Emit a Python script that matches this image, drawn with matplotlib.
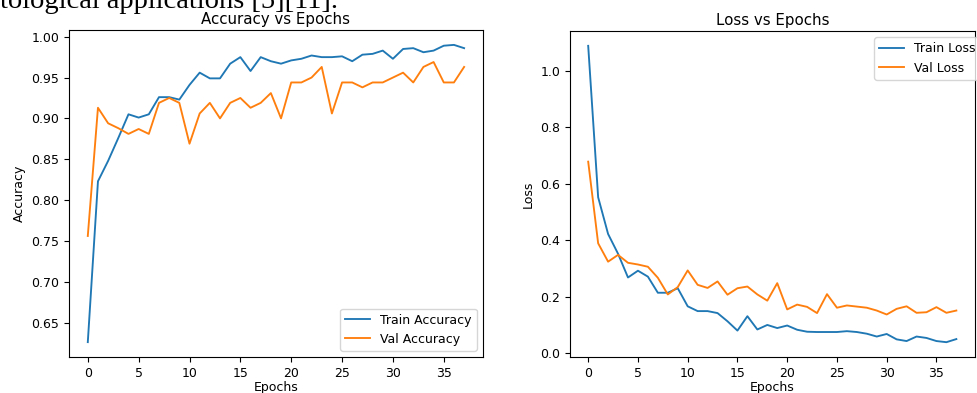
import numpy as np
import matplotlib
matplotlib.use('Agg')
import matplotlib.pyplot as plt

plt.rcParams['font.size'] = 9

# training history, one value per epoch
epochs = np.arange(38)

train_acc = [0.626, 0.823, 0.848, 0.876, 0.905, 0.901, 0.905, 0.926, 0.926, 0.923,
             0.941, 0.956, 0.949, 0.949, 0.967, 0.975, 0.958, 0.975, 0.970, 0.967,
             0.971, 0.973, 0.977, 0.975, 0.975, 0.976, 0.970, 0.978, 0.979, 0.983,
             0.973, 0.985, 0.986, 0.981, 0.983, 0.989, 0.990, 0.986]
val_acc = [0.756, 0.913, 0.894, 0.888, 0.881, 0.887, 0.881, 0.919, 0.925, 0.919,
           0.869, 0.906, 0.919, 0.900, 0.919, 0.925, 0.913, 0.919, 0.931, 0.900,
           0.944, 0.944, 0.950, 0.963, 0.906, 0.944, 0.944, 0.938, 0.944, 0.944,
           0.950, 0.956, 0.944, 0.963, 0.969, 0.944, 0.944, 0.963]

train_loss = [1.088, 0.552, 0.422, 0.352, 0.268, 0.292, 0.271, 0.214, 0.214, 0.230,
              0.166, 0.149, 0.149, 0.142, 0.113, 0.080, 0.131, 0.084, 0.100, 0.089,
              0.098, 0.083, 0.076, 0.075, 0.075, 0.075, 0.078, 0.075, 0.069, 0.059,
              0.068, 0.049, 0.043, 0.059, 0.054, 0.043, 0.039, 0.050]
val_loss = [0.678, 0.389, 0.324, 0.348, 0.320, 0.314, 0.306, 0.267, 0.208, 0.234,
            0.293, 0.242, 0.231, 0.254, 0.207, 0.230, 0.236, 0.208, 0.186, 0.248,
            0.155, 0.172, 0.164, 0.142, 0.209, 0.161, 0.169, 0.165, 0.161, 0.151,
            0.137, 0.157, 0.166, 0.143, 0.145, 0.163, 0.143, 0.151]

fig = plt.figure(figsize=(9.77, 3.93), dpi=100)

# line of body text sitting above the plots
fig.text(0.0, 0.98, 'tological applications [5][11].', family='Liberation Serif',
         fontsize=20.5, va='baseline', ha='left')

ax1 = fig.add_axes([0.0706, 0.0916, 0.4237, 0.832])
ax1.plot(epochs, train_acc, label='Train Accuracy', lw=1.35)
ax1.plot(epochs, val_acc, label='Val Accuracy', lw=1.35)
ax1.set_title('Accuracy vs Epochs', fontsize=10.8, pad=4)
ax1.set_xlabel('Epochs', labelpad=1)
ax1.set_ylabel('Accuracy')
ax1.set_xticks(range(0, 36, 5))
ax1.legend(loc='lower right')

ax2 = fig.add_axes([0.5832, 0.0916, 0.4145, 0.8295])
ax2.plot(epochs, train_loss, label='Train Loss', lw=1.35)
ax2.plot(epochs, val_loss, label='Val Loss', lw=1.35)
ax2.set_title('Loss vs Epochs', fontsize=10.8, pad=4)
ax2.set_xlabel('Epochs', labelpad=1)
ax2.set_ylabel('Loss')
ax2.set_xticks(range(0, 36, 5))
ax2.legend(loc='upper right', bbox_to_anchor=(1.03, 1.0))

fig.savefig('out.png', dpi=100)
